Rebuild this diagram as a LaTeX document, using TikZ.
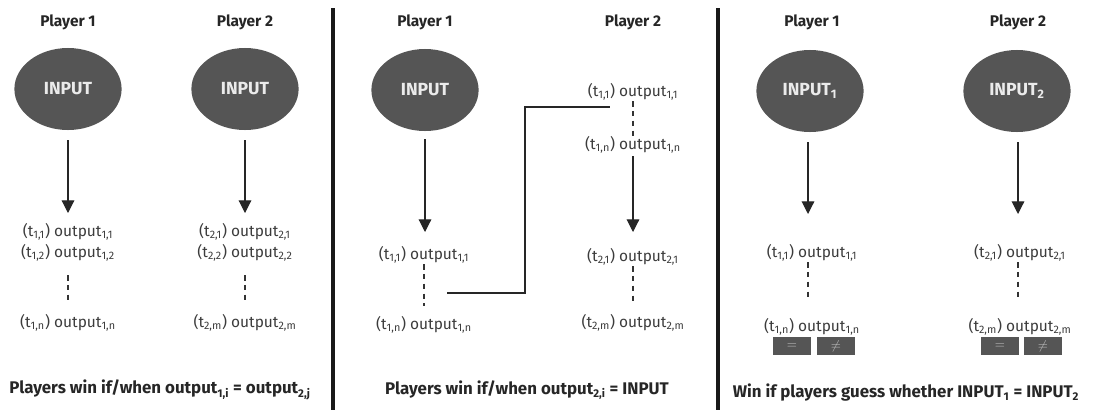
\documentclass[tikz,border=0pt]{standalone}
\usepackage{fontspec}
\setmainfont{Fira Sans}
\usetikzlibrary{shapes.geometric, arrows.meta, positioning}
\usepackage{xcolor}
\definecolor{inputgray}{RGB}{85,85,85}
\definecolor{textgray}{RGB}{60,60,60}
\definecolor{symgray}{RGB}{190,190,190}

\newcommand{\outp}[3]{(t\textsubscript{#1,#2}) output\textsubscript{#1,#3}}

\begin{document}
\begin{tikzpicture}[
    x=0.025cm, y=-0.025cm,
    head/.style={font=\fontsize{11}{13}\selectfont\bfseries, text=black!85},
    inp/.style={ellipse, fill=inputgray, minimum width=2.68cm,
                minimum height=2.05cm, inner sep=0pt, text=white!92!black,
                font=\fontsize{12.5}{14}\selectfont\bfseries},
    outtxt/.style={font=\fontsize{11}{13}\selectfont, text=textgray,
                   inner sep=1pt},
    caption/.style={font=\fontsize{12}{14}\selectfont\bfseries, text=black!85},
    btn/.style={rectangle, fill=inputgray, minimum width=0.95cm,
                minimum height=0.43cm, inner sep=0pt, text=symgray,
                font=\fontsize{9}{10}\selectfont},
    arr/.style={-{Triangle[length=9pt, width=9pt]}, thick, color=black!85},
    dsh/.style={dashed, thick, color=black!80, dash pattern=on 4pt off 3pt},
    link/.style={thick, color=black!85},
    divider/.style={line width=2.2pt, color=black!90}
]
\useasboundingbox (0,0) rectangle (1097,410);

%% ── Panel 1: same input ──
\node[head] (hA1) at (68,22)  {Player 1};
\node[head] (hA2) at (245,22) {Player 2};
\node[inp]  (eA1) at (68,89)  {INPUT};
\node[inp]  (eA2) at (245,89) {INPUT};

\node[outtxt] (oA11) at (68,232)  {\outp{1}{1}{1}};
\node[outtxt] (oA12) at (68,253)  {\outp{1}{2}{2}};
\node[outtxt] (oA1n) at (68,323)  {\outp{1}{n}{n}};
\node[outtxt] (oA21) at (245,232) {\outp{2}{1}{1}};
\node[outtxt] (oA22) at (245,253) {\outp{2}{2}{2}};
\node[outtxt] (oA2m) at (245,323) {\outp{2}{m}{m}};

\draw[arr] (eA1.south) ++(0,10) -- (68,213);
\draw[arr] (eA2.south) ++(0,10) -- (245,213);
\draw[dsh] (68,275)  -- (68,303);
\draw[dsh] (245,275) -- (245,303);

\node[caption] (cA) at (160,390)
  {Players win if/when output\textsubscript{1,i} = output\textsubscript{2,j}};

\draw[divider] (333,8) -- (333,410);

%% ── Panel 2: one input, two guessing sequences ──
\node[head] (hB1) at (425,22) {Player 1};
\node[head] (hB2) at (633,22) {Player 2};
\node[inp]  (eB1) at (425,90) {INPUT};

\node[outtxt] (oB11) at (424,255) {\outp{1}{1}{1}};
\node[outtxt] (oB1n) at (424,325) {\outp{1}{n}{n}};
\node[outtxt] (oB21) at (633,92)  {\outp{1}{1}{1}};
\node[outtxt] (oB2n) at (633,145) {\outp{1}{n}{n}};
\node[outtxt] (oB31) at (633,257) {\outp{2}{1}{1}};
\node[outtxt] (oB3m) at (633,323) {\outp{2}{m}{m}};

\draw[arr] (eB1.south) ++(0,8) -- (425,232);
\draw[arr] (633,156) -- (633,232);
\draw[dsh] (424,264) -- (424,306);
\draw[dsh] (633,101) -- (633,136);
\draw[dsh] (633,266) -- (633,301);

\coordinate (cL) at (447,293);
\coordinate (cR) at (610,107);
\draw[link] (cL) -- ++(78,0) |- (cR);

\node[caption] (cB) at (527,390)
  {Players win if/when output\textsubscript{2,i} = INPUT};

\draw[divider] (718,8) -- (718,410);

%% ── Panel 3: two inputs, guess equality ──
\node[head] (hC1) at (812,22)  {Player 1};
\node[head] (hC2) at (1018,22) {Player 2};
\node[inp]  (eC1) at (810,91)  {INPUT\textsubscript{1}};
\node[inp]  (eC2) at (1017,91) {INPUT\textsubscript{2}};

\node[outtxt] (oC11) at (812,253)  {\outp{1}{1}{1}};
\node[outtxt] (oC1n) at (812,327)  {\outp{1}{n}{n}};
\node[outtxt] (oC21) at (1020,253) {\outp{2}{1}{1}};
\node[outtxt] (oC2m) at (1020,327) {\outp{2}{m}{m}};

\draw[arr] (808,142) -- (808,214);
\draw[arr] (1018,142) -- (1018,214);
\draw[dsh] (808,262)  -- (808,300);
\draw[dsh] (1018,262) -- (1018,300);

\node[btn] (bC1e) at (792,346)  {$=$};
\node[btn] (bC1n) at (836,346)  {$\neq$};
\node[btn] (bC2e) at (1000,346) {$=$};
\node[btn] (bC2n) at (1043,346) {$\neq$};

\node[caption] (cC) at (906,393)
  {Win if players guess whether INPUT\textsubscript{1} = INPUT\textsubscript{2}};

\end{tikzpicture}
\end{document}
